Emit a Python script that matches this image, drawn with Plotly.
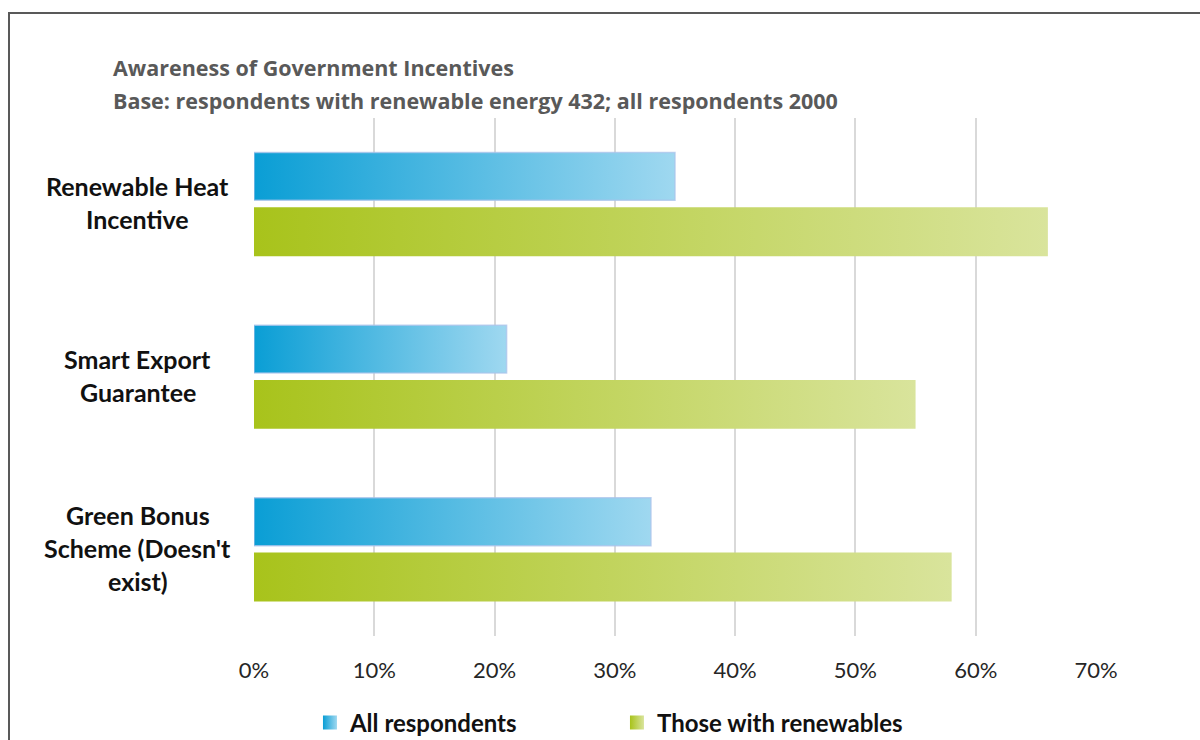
import plotly.graph_objects as go

# Survey data (percent aware)
categories = ["Renewable Heat\nIncentive", "Smart Export\nGuarantee", "Green Bonus\nScheme (Doesn't\nexist)"]
all_respondents = [35, 21, 33]
with_renewables = [66, 55, 58]
x_ticks = [0, 10, 20, 30, 40, 50, 60, 70]
x_tick_labels = ["0%", "10%", "20%", "30%", "40%", "50%", "60%", "70%"]
series_names = ["All respondents", "Those with renewables"]

FONT = "Lato"
TITLE_FONT = "Open Sans"
BLUE = ("#0a9ed5", "#9fd8f0")
GREEN = ("#a8c31b", "#d9e49c")

fig = go.Figure()

# Each bar is a filled rectangle in data coordinates so it can carry a horizontal gradient
def add_bar(value, row, y0_off, y1_off, colors, outline):
    y0, y1 = row + y0_off, row + y1_off
    fig.add_trace(go.Scatter(
        x=[0, value, value, 0, 0],
        y=[y0, y0, y1, y1, y0],
        mode="lines",
        fill="toself",
        fillgradient=dict(type="horizontal", colorscale=[[0, colors[0]], [1, colors[1]]]),
        line=dict(color=outline, width=1.5 if outline != "rgba(0,0,0,0)" else 0),
        showlegend=False,
        hoverinfo="skip",
    ))

for i, (a, r) in enumerate(zip(all_respondents, with_renewables)):
    add_bar(a, i, -0.300, -0.023, BLUE, "rgba(170,195,235,0.75)")
    add_bar(r, i, 0.017, 0.300, GREEN, "rgba(0,0,0,0)")

# Legend entries with gradient squares
for name, colors in zip(series_names, (BLUE, GREEN)):
    fig.add_trace(go.Scatter(
        x=[None], y=[None], mode="markers", name=name,
        marker=dict(symbol="square", size=14, color=colors[0],
                    gradient=dict(type="horizontal", color=colors[1]),
                    line=dict(width=0)),
    ))

# Category labels, centred and stacked line by line
annotations = []
line_gap = 33
for i, label in enumerate(categories):
    lines = label.split("\n")
    n = len(lines)
    for k, txt in enumerate(lines):
        annotations.append(dict(
            x=-0.1378, xref="paper", y=i, yref="y",
            yshift=2 - (k - (n - 1) / 2) * line_gap,
            text=txt, showarrow=False, xanchor="center", yanchor="middle",
            font=dict(family=FONT, size=25, color="#111111", weight="bold"),
        ))

# Chart title lines
title_x = -0.1675 - 2 / 842
annotations.append(dict(x=title_x, xref="paper", y=1 + (118 - 68) / 518, yref="paper",
                        text="Awareness of Government Incentives", showarrow=False,
                        xanchor="left", yanchor="middle",
                        font=dict(family=TITLE_FONT, size=21.5, color="#595959", weight="bold")))
annotations.append(dict(x=title_x, xref="paper", y=1 + (118 - 100) / 518, yref="paper",
                        text="Base: respondents with renewable energy 432; all respondents 2000",
                        showarrow=False, xanchor="left", yanchor="middle",
                        font=dict(family=TITLE_FONT, size=21.5, color="#595959", weight="bold")))

fig.update_layout(
    width=1200, height=740,
    margin=dict(l=254, r=104, t=118, b=104, autoexpand=False),
    paper_bgcolor="white", plot_bgcolor="white",
    annotations=annotations,
    shapes=[dict(type="rect", xref="paper", yref="paper",
                 x0=(9 - 254) / 842, x1=1.5, y0=-0.5, y1=1 + (118 - 13) / 518,
                 line=dict(color="#595959", width=2), fillcolor="rgba(0,0,0,0)", layer="below")],
    xaxis=dict(range=[0, 70], tickvals=x_ticks, ticktext=x_tick_labels,
               showgrid=True, gridcolor="#d9d9d9", gridwidth=2, zeroline=False,
               showline=False, ticks="", ticklabelstandoff=19,
               tickfont=dict(family=FONT, size=22, color="#262626"), fixedrange=True),
    yaxis=dict(range=[2.5, -0.5], showticklabels=False, showgrid=False, zeroline=False,
               showline=False, fixedrange=True),
    legend=dict(orientation="h", x=0.0736 - 6 / 842, xanchor="left",
                y=(636 - 723) / 518, yanchor="middle",
                entrywidth=262, entrywidthmode="pixels",
                font=dict(family=FONT, size=24, color="#111111", weight="bold"),
                bgcolor="rgba(0,0,0,0)"),
    showlegend=True,
)

fig.write_html("out.html")
